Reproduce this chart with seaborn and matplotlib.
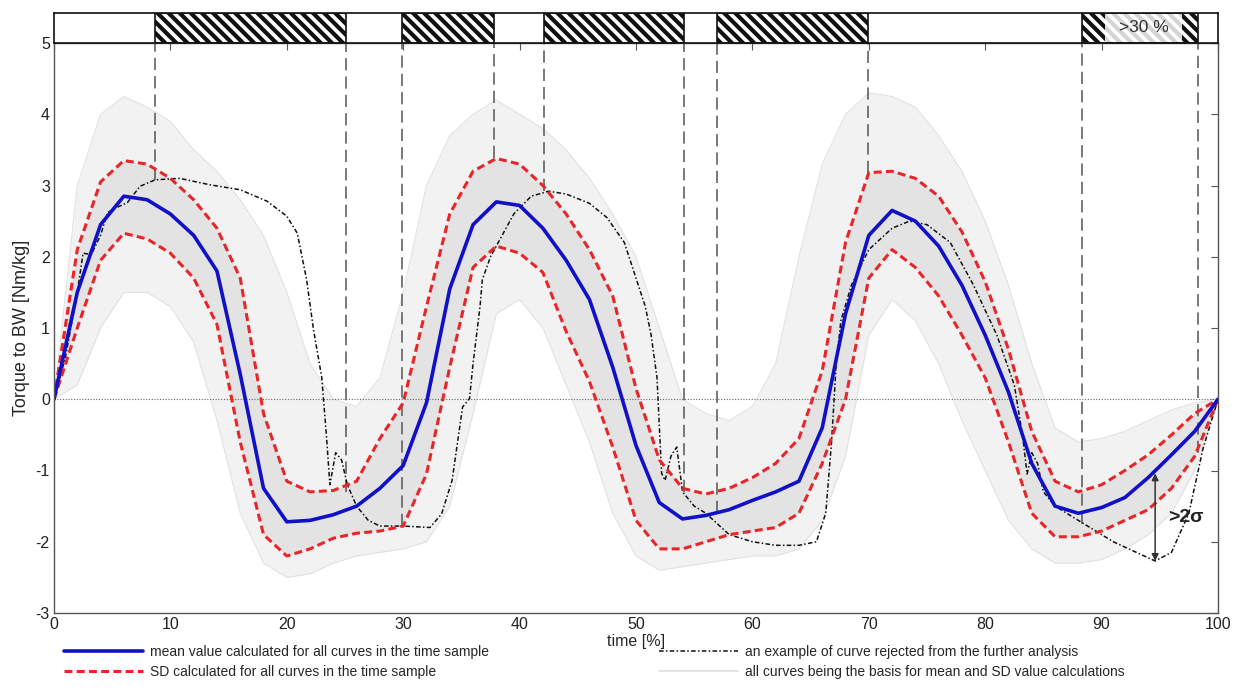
import matplotlib
matplotlib.use('Agg')
import matplotlib.pyplot as plt
from matplotlib.lines import Line2D
from matplotlib.patches import Rectangle
import seaborn as sns

# time samples [%] for the averaged curves
t = list(range(0, 101, 2))
mean_curve = [0, 1.5, 2.45, 2.85, 2.8, 2.6, 2.3, 1.8, 0.35, -1.25,
              -1.72, -1.7, -1.62, -1.5, -1.25, -0.93, -0.05, 1.55, 2.45, 2.77,
              2.72, 2.4, 1.95, 1.4, 0.45, -0.65, -1.45, -1.68, -1.63, -1.55,
              -1.42, -1.3, -1.15, -0.4, 1.2, 2.3, 2.65, 2.5, 2.15, 1.6,
              0.9, 0.1, -0.9, -1.5, -1.6, -1.52, -1.38, -1.1, -0.78, -0.45, 0]
sd_upper = [0, 2.1, 3.05, 3.35, 3.3, 3.1, 2.8, 2.4, 1.7, -0.2,
            -1.15, -1.3, -1.28, -1.15, -0.55, -0.05, 1.3, 2.6, 3.2, 3.38,
            3.3, 3.0, 2.6, 2.1, 1.45, 0.15, -0.85, -1.25, -1.33, -1.25,
            -1.1, -0.9, -0.55, 0.4, 2.2, 3.18, 3.2, 3.1, 2.85, 2.35,
            1.65, 0.7, -0.45, -1.15, -1.3, -1.2, -1.0, -0.78, -0.5, -0.2, 0]
sd_lower = [0, 1.0, 1.95, 2.33, 2.25, 2.05, 1.7, 1.05, -0.6, -1.9,
            -2.2, -2.1, -1.95, -1.88, -1.85, -1.78, -1.05, 0.45, 1.85, 2.15,
            2.05, 1.78, 0.95, 0.25, -0.67, -1.7, -2.1, -2.1, -2.0, -1.9,
            -1.85, -1.8, -1.6, -0.9, 0.0, 1.7, 2.1, 1.85, 1.45, 0.9,
            0.3, -0.6, -1.6, -1.93, -1.93, -1.85, -1.7, -1.55, -1.25, -0.8, 0]
# envelope of all individual curves (light grey bundle)
all_hi = [0, 3.0, 4.0, 4.25, 4.1, 3.9, 3.5, 3.2, 2.8, 2.3,
          1.5, 0.5, 0.0, -0.1, 0.3, 1.5, 3.0, 3.7, 4.0, 4.2,
          4.0, 3.8, 3.5, 3.1, 2.6, 2.0, 1.0, 0.0, -0.2, -0.3,
          -0.1, 0.5, 2.0, 3.3, 4.0, 4.3, 4.25, 4.1, 3.7, 3.2,
          2.5, 1.6, 0.5, -0.4, -0.6, -0.55, -0.45, -0.3, -0.15, -0.05, 0]
all_lo = [0, 0.2, 1.0, 1.5, 1.5, 1.3, 0.8, -0.3, -1.6, -2.3,
          -2.5, -2.45, -2.3, -2.2, -2.15, -2.1, -2.0, -1.5, -0.2, 1.2,
          1.4, 1.0, 0.2, -0.6, -1.6, -2.2, -2.4, -2.35, -2.3, -2.25,
          -2.2, -2.2, -2.1, -1.7, -0.8, 0.9, 1.4, 1.1, 0.5, -0.3,
          -1.0, -1.7, -2.1, -2.3, -2.3, -2.25, -2.1, -1.9, -1.6, -1.0, 0]

# rejected example curve
rej_t = [0, 1, 2, 2.5, 3.2, 4, 4.6, 5.5, 6.3, 7.4, 8.7, 10.8, 13.4, 16.0, 18.3,
         20.0, 20.9, 21.7, 22.3, 23.0, 23.4, 23.7, 24.2, 24.7, 25.2, 26, 27, 28,
         30, 32.3, 33.3, 34.2, 35.1, 35.7, 36.0, 36.6, 36.8, 37.5, 38.5, 39.5,
         41, 42.5, 44, 46, 47.5, 49, 50, 50.8, 51.3, 51.8, 52.2, 52.5, 53.0,
         53.5, 54.0, 55, 56, 58, 60, 62, 64, 65.5, 66.3, 66.8, 67.2, 67.6, 68.5,
         70, 72, 73.5, 75, 77, 79, 81, 82.5, 83.2, 83.6, 84.0, 84.5, 85, 86, 88,
         89.5, 91, 93, 94.6, 96, 97.5, 98.7, 100]
rej_y = [0, 0.6, 1.5, 2.05, 2.03, 2.3, 2.62, 2.7, 2.76, 2.99, 3.08, 3.1, 3.01,
         2.94, 2.78, 2.57, 2.33, 1.68, 0.97, 0.31, -0.5, -1.2, -0.75, -0.85,
         -1.2, -1.5, -1.7, -1.78, -1.78, -1.8, -1.61, -1.14, -0.11, 0.01, 0.5,
         1.3, 1.68, 2.0, 2.3, 2.6, 2.85, 2.92, 2.88, 2.75, 2.55, 2.2, 1.7, 1.3,
         0.9, 0.31, -1.04, -1.14, -0.8, -0.67, -1.3, -1.5, -1.6, -1.9, -2.0,
         -2.05, -2.05, -2.0, -1.6, -0.6, 0.5, 1.1, 1.6, 2.1, 2.4, 2.5, 2.45,
         2.2, 1.6, 0.9, 0.2, -0.5, -1.05, -0.75, -0.9, -1.3, -1.5, -1.7, -1.85,
         -2.0, -2.15, -2.27, -2.15, -1.6, -0.7, 0]

# phases marked in the top strip [% of time]
phase_start = [8.7, 29.9, 42.1, 57.0, 88.3]
phase_end = [25.1, 37.8, 54.1, 69.9, 98.3]
over30_span = (90.3, 96.9)

# dashed markers: x position and lower end of the line
marker_x = [8.7, 25.1, 29.9, 37.8, 42.1, 54.1, 57.0, 69.9, 88.3, 98.3]
marker_low = [3.08, -1.3, -1.78, 3.38, 2.92, -1.3, -1.6, 3.18, -1.75, -0.75]

# 2 sigma deviation arrow
sigma_x = 94.6
sigma_top = -1.04
sigma_bottom = -2.27

sns.set_style('white')
plt.rcParams['font.family'] = ['Liberation Sans', 'DejaVu Sans']
plt.rcParams['hatch.linewidth'] = 3.0
plt.rcParams['axes.unicode_minus'] = False

W, H = 1239, 688
fig = plt.figure(figsize=(W / 100, H / 100), dpi=100)
ax = fig.add_axes([54 / W, 1 - 613 / H, (1218 - 54) / W, (613 - 43) / H])
top = fig.add_axes([54 / W, 1 - 43 / H, (1218 - 54) / W, 30 / H])

# grey bundle of all curves
ax.fill_between(t, all_lo, all_hi, color='#f2f2f2', lw=0)
ax.fill_between(t, sd_lower, sd_upper, color='#e3e3e3', lw=0)
sns.lineplot(x=t, y=all_hi, ax=ax, color='#e2e2e2', lw=0.8, errorbar=None)
sns.lineplot(x=t, y=all_lo, ax=ax, color='#e2e2e2', lw=0.8, errorbar=None)

ax.axhline(0, color='#666666', lw=0.8, ls=(0, (1, 1.5)))
ax.vlines(marker_x, marker_low, 5, colors='#555555', lw=1.1, linestyles=(0, (8, 4)))

sns.lineplot(x=rej_t, y=rej_y, ax=ax, color='#111111', lw=1.1,
             linestyle=(0, (3, 1.5, 1, 1.5)), sort=False, errorbar=None)
sns.lineplot(x=t, y=sd_upper, ax=ax, color='#e8262a', lw=2.2,
             linestyle=(0, (2.6, 1.4)), errorbar=None)
sns.lineplot(x=t, y=sd_lower, ax=ax, color='#e8262a', lw=2.2,
             linestyle=(0, (2.6, 1.4)), errorbar=None)
sns.lineplot(x=t, y=mean_curve, ax=ax, color='#1010c8', lw=2.6, errorbar=None)

ax.annotate('', xy=(sigma_x, sigma_bottom), xytext=(sigma_x, sigma_top),
            arrowprops=dict(arrowstyle='<|-|>', color='#333333', lw=1.1,
                            mutation_scale=10, shrinkA=0, shrinkB=0))
ax.text(sigma_x + 1.1, (sigma_top + sigma_bottom) / 2, '>2σ', fontsize=14,
        fontweight='bold', color='#222222', va='center', ha='left')

ax.set_xlim(0, 100)
ax.set_ylim(-3, 5)
ax.set_xticks(range(0, 101, 10))
ax.set_yticks(range(-3, 6))
ax.tick_params(direction='in', top=True, right=True, length=5, width=0.8,
               color='#555555', labelsize=11.5, labelcolor='#222222', pad=3)
for s in ax.spines.values():
    s.set_color('#555555')
    s.set_linewidth(1)
ax.set_xlabel('time [%]', fontsize=11.5, labelpad=1)
ax.set_ylabel('Torque to BW [Nm/kg]', fontsize=13, labelpad=4)

# top strip with hatched phases
top.set_xlim(0, 100)
top.set_ylim(0, 1)
top.set_xticks([])
top.set_yticks([])
for s in top.spines.values():
    s.set_color('#111111')
    s.set_linewidth(1.2)
for a, b in zip(phase_start, phase_end):
    top.add_patch(Rectangle((a, 0), b - a, 1, facecolor='white', edgecolor='#111111',
                            hatch='\\\\\\', lw=1.2))
top.add_patch(Rectangle((over30_span[0], 0.03), over30_span[1] - over30_span[0], 0.94,
                        facecolor='white', edgecolor='#d4d4d4', hatch='\\\\\\', lw=0))
top.text(sum(over30_span) / 2, 0.5, '>30 %', fontsize=12.5,
         color='#333333', ha='center', va='center')

h1 = [Line2D([], [], color='#1010c8', lw=2.6),
      Line2D([], [], color='#e8262a', lw=2.2, linestyle=(0, (2.6, 1.4)))]
l1 = ['mean value calculated for all curves in the time sample',
      'SD calculated for all curves in the time sample']
h2 = [Line2D([], [], color='#111111', lw=1.1, linestyle=(0, (3, 1.5, 1, 1.5))),
      Line2D([], [], color='#dddddd', lw=1.1)]
l2 = ['an example of curve rejected from the further analysis',
      'all curves being the basis for mean and SD value calculations']
fig.legend(h1, l1, loc='upper left', bbox_to_anchor=(64 / W, 1 - 645 / H),
           frameon=False, fontsize=10, handlelength=5.7, handletextpad=0.5,
           labelspacing=0.45, borderpad=0, borderaxespad=0)
fig.legend(h2, l2, loc='upper left', bbox_to_anchor=(659 / W, 1 - 645 / H),
           frameon=False, fontsize=10, handlelength=5.7, handletextpad=0.5,
           labelspacing=0.45, borderpad=0, borderaxespad=0)

fig.savefig('out.png', dpi=100)
